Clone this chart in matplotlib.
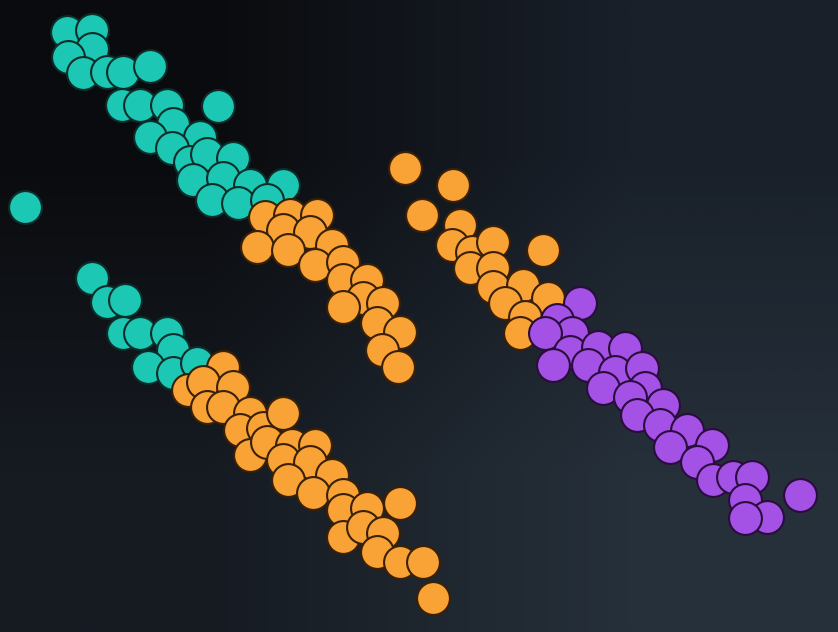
import numpy as np
import matplotlib.pyplot as plt

# point centres (pixel coords, y down)
teal_x = [67, 92, 92, 68, 83, 107, 123, 150, 122, 140, 167, 218, 173, 150, 200, 172,
          190, 207, 233, 193, 223, 212, 250, 238, 283, 267, 25,
          92, 107, 125, 123, 140, 167, 173, 148, 173, 197]
teal_y = [32, 30, 49, 57, 73, 72, 72, 66, 105, 105, 105, 106, 124, 137, 137, 148,
          162, 154, 158, 180, 178, 200, 185, 203, 185, 200, 207,
          278, 302, 300, 333, 333, 333, 350, 367, 373, 363]

orange_x = [265, 290, 317, 283, 310, 257, 288, 332, 315, 343, 343, 367, 363, 343, 383,
            377, 400, 382, 398,
            223, 188, 203, 233, 207, 223, 250, 240, 263, 283, 250, 267, 292, 315, 283,
            310, 288, 332, 313, 343, 343, 367, 400, 343, 363, 383, 377, 400, 423, 433,
            405, 453, 422, 460, 452, 472, 493, 543, 470, 493, 493, 523, 505, 548, 525, 520]
orange_y = [217, 215, 215, 230, 232, 247, 250, 245, 265, 262, 280, 280, 298, 307, 303,
            323, 332, 350, 367,
            367, 390, 382, 387, 407, 407, 413, 430, 428, 413, 455, 442, 445, 445, 460,
            462, 480, 475, 493, 495, 510, 508, 503, 537, 527, 533, 552, 562, 562, 598,
            168, 185, 215, 225, 245, 252, 242, 250, 268, 268, 287, 285, 303, 298, 317, 333]

purple_x = [580, 557, 572, 545, 570, 553, 598, 588, 625, 615, 642, 603, 645, 630, 663,
            637, 660, 687, 670, 712, 697, 713, 733, 752, 745, 767, 745, 800]
purple_y = [303, 320, 333, 333, 352, 365, 347, 365, 348, 372, 368, 388, 388, 397, 405,
            415, 425, 430, 447, 445, 462, 480, 477, 477, 500, 517, 518, 495]

W, H = 838, 632
fig = plt.figure(figsize=(W / 100, H / 100), dpi=100)
ax = fig.add_axes([0, 0, 1, 1])

# dark diagonal gradient background
bg = np.array([[[10, 11, 14], [25, 32, 42]],
               [[22, 27, 34], [38, 48, 58]]]) / 255.0
ax.imshow(bg, extent=[0, W, H, 0], interpolation='bilinear', aspect='auto', zorder=0)

s = 560
ax.scatter(teal_x, teal_y, s=s, color='#1cc8b4', edgecolors='#0b2e2a', linewidths=1.5, zorder=2)
ax.scatter(orange_x, orange_y, s=s, color='#f9a236', edgecolors='#3a2006', linewidths=1.5, zorder=3)
ax.scatter(purple_x, purple_y, s=s, color='#a452e6', edgecolors='#2a0d3d', linewidths=1.5, zorder=4)

ax.set_xlim(0, W)
ax.set_ylim(H, 0)
ax.axis('off')
fig.savefig('out.png', dpi=100)
